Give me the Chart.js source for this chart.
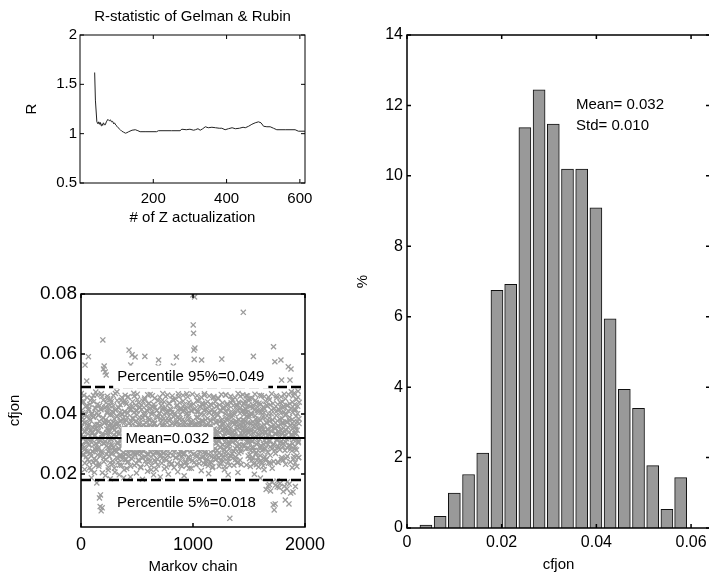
<!DOCTYPE html>
<html>
<head>
<meta charset="utf-8">
<script src="https://cdn.jsdelivr.net/npm/chart.js@4/dist/chart.umd.min.js"></script>
<style>
  html, body { margin: 0; padding: 0; background: #fff; width: 709px; height: 576px; overflow: hidden; }
  .panel { position: absolute; }
</style>
</head>
<body>
<div class="panel" style="left:0;top:0;width:340px;height:240px"><canvas id="rstat"></canvas></div>
<div class="panel" style="left:0;top:240px;width:340px;height:336px"><canvas id="chain"></canvas></div>
<div class="panel" style="left:340px;top:0;width:380px;height:576px"><canvas id="hist"></canvas></div>
<script>
// --- R-statistic of Gelman & Rubin ---
const rIter = [40, 42, 46, 49, 51, 53, 55, 58, 60, 62, 64, 67, 69, 72, 76, 80, 83, 86, 89, 92,
  94, 98, 101, 104, 107, 110, 114, 119, 124, 128, 133, 142, 151, 158, 164, 180, 209, 214, 250, 273,
  278, 290, 300, 310, 315, 322, 328, 335, 342, 350, 360, 370, 380, 387, 396, 405, 415, 424, 435, 445,
  451, 460, 469, 478, 487, 494, 501, 510, 519, 528, 537, 560, 587, 596, 614];
const rValue = [1.62, 1.34, 1.12, 1.10, 1.12, 1.095, 1.115, 1.08, 1.10, 1.085, 1.11, 1.09, 1.09, 1.12, 1.145, 1.13, 1.14, 1.12, 1.125, 1.10,
  1.11, 1.085, 1.075, 1.06, 1.05, 1.04, 1.025, 1.015, 1.005, 1.01, 1.02, 1.035, 1.04, 1.03, 1.02, 1.02, 1.02, 1.03, 1.03, 1.03,
  1.045, 1.04, 1.045, 1.035, 1.04, 1.05, 1.035, 1.05, 1.07, 1.06, 1.065, 1.06, 1.055, 1.055, 1.04, 1.05, 1.06, 1.05, 1.055, 1.065,
  1.06, 1.075, 1.095, 1.11, 1.12, 1.11, 1.075, 1.07, 1.07, 1.055, 1.04, 1.04, 1.04, 1.025, 1.025];
const rXTicks = [200, 400, 600];
const rXLabels = ['200', '400', '600'];
const rYTicks = [0.5, 1, 1.5, 2];
const rYLabels = ['0.5', '1', '1.5', '2'];

// --- Markov chain of cfjon (values in units of 1e-4) ---
// chainDraws: iterations 0, 3, 6, ...; chainDrawsMid: iterations 1.5, 4.5, ...
const chainStep = 3;
const chainDraws = [
  452, 468, 331, 296, 387, 405, 262, 318, 440, 371, 289, 215, 563, 342, 398, 276, 305, 510, 427, 354, 248, 333, 591, 412, 366,
  298, 221, 379, 445, 312, 260, 187, 338, 403, 356, 274, 239, 462, 391, 327, 205, 284, 350, 419, 473, 301, 246, 170, 365, 432,
  281, 344, 397, 226, 305, 120, 362, 91, 130, 418, 77, 276, 458, 87, 329, 647, 386, 550, 241, 560, 302, 371, 540, 195, 423,
  530, 266, 338, 402, 451, 287, 213, 349, 376, 310, 258, 429, 184, 297, 365, 441, 322, 271, 398, 233, 355, 462, 290, 317, 384,
  347, 206, 278, 413, 369, 255, 326, 474, 392, 301, 239, 358, 420, 283, 197, 336, 405, 264, 311, 378, 446, 229, 293, 352, 399,
  315, 260, 187, 343, 407, 372, 248, 296, 439, 360, 282, 218, 331, 389, 456, 307, 241, 268, 613, 347, 414, 279, 190, 563, 338,
  372, 425, 597, 300, 257, 318, 386, 469, 344, 229, 271, 590, 354, 411, 286, 203, 329, 397, 448, 313, 246, 365, 280, 338, 420,
  291, 352, 224, 268, 383, 430, 309, 255, 182, 336, 401, 362, 277, 319, 447, 592, 394, 243, 296, 358, 412, 325, 266, 209, 345,
  388, 434, 302, 250, 327, 380, 465, 316, 274, 214, 341, 399, 287, 358, 423, 263, 197, 305, 370, 452, 334, 281, 240, 319, 392,
  356, 411, 272, 230, 298, 558, 580, 349, 403, 318, 266, 190, 327, 384, 441, 295, 252, 362, 420, 309, 271, 343, 398, 217, 285,
  336, 377, 458, 310, 246, 289, 351, 405, 322, 261, 199, 340, 393, 436, 300, 270, 328, 381, 414, 292, 235, 312, 367, 449, 325,
  560, 283, 221, 348, 402, 366, 297, 254, 318, 590, 375, 430, 284, 207, 333, 389, 457, 311, 262, 344, 398, 276, 229, 355, 416,
  301, 259, 337, 382, 443, 314, 268, 194, 329, 371, 420, 289, 241, 356, 401, 467, 323, 280, 347, 392, 308, 255, 219, 362, 428,
  335, 287, 372, 410, 351, 298, 244, 319, 797, 697, 669, 613, 582, 790, 620, 366, 304, 262, 331, 389, 445, 316, 278, 353, 407,
  372, 294, 235, 318, 361, 423, 340, 282, 211, 580, 327, 379, 436, 305, 257, 346, 398, 462, 321, 274, 232, 358, 414, 297, 250,
  339, 385, 441, 312, 266, 201, 347, 403, 360, 293, 241, 325, 377, 429, 306, 258, 221, 336, 392, 454, 318, 279, 350, 408, 285,
  247, 331, 374, 425, 303, 262, 343, 396, 451, 314, 270, 226, 359, 412, 337, 289, 243, 320, 378, 583, 348, 297, 256, 369, 418,
  326, 282, 214, 351, 400, 463, 316, 273, 339, 386, 430, 302, 251, 197, 344, 392, 357, 300, 52, 262, 328, 375, 437, 311, 268,
  341, 397, 448, 323, 276, 229, 365, 411, 333, 285, 248, 312, 370, 426, 349, 294, 238, 205, 381, 439, 327, 283, 354, 402, 459,
  317, 274, 231, 361, 409, 345, 297, 380, 739, 433, 398, 352, 409, 443, 376, 330, 415, 461, 392, 344, 306, 371, 427, 286, 338,
  395, 451, 318, 264, 225, 349, 403, 367, 288, 246, 310, 363, 421, 592, 335, 279, 199, 342, 394, 445, 320, 270, 231, 358, 410,
  373, 304, 255, 329, 384, 436, 346, 291, 242, 186, 353, 405, 461, 324, 277, 337, 390, 422, 299, 253, 214, 362, 417, 339, 284,
  245, 148, 318, 369, 428, 350, 297, 160, 236, 331, 386, 447, 309, 262, 143, 344, 401, 357, 283, 219, 324, 380, 97, 624, 300,
  80, 352, 574, 100, 268, 334, 395, 453, 312, 157, 240, 361, 416, 342, 287, 155, 328, 383, 438, 306, 580, 248, 513, 369, 422,
  337, 291, 141, 354, 407, 466, 325, 278, 113, 232, 346, 398, 317, 150, 259, 373, 429, 557, 294, 100, 340, 389, 513, 282, 136,
  550, 474, 327, 381, 440, 301, 140, 250, 362, 415, 470, 335, 283, 158, 349, 392, 448, 318, 261, 373, 426, 476, 304, 255, 368
];
const chainDrawsMid = [
  410, 356, 298, 441, 377, 322, 265, 399, 462, 340, 281, 236, 371, 425, 309, 257, 348, 391, 455, 318, 274, 362, 417, 296, 240,
  385, 432, 327, 269, 212, 346, 398, 452, 313, 276, 338, 389, 441, 297, 251, 365, 420, 329, 280, 228, 352, 404, 463, 317, 263,
  342, 395, 288, 233, 376, 428, 311, 260, 359, 414, 467, 320, 271, 204, 335, 387, 446, 302, 255, 369, 421, 308, 247, 381, 437,
  293, 350, 406, 459, 328, 275, 222, 363, 418, 340, 286, 237, 397, 448, 315, 267, 354, 409, 296, 243, 372, 427, 331, 278, 219,
  358, 413, 468, 324, 273, 338, 392, 445, 306, 252, 367, 422, 333, 284, 229, 376, 431, 312, 259, 345, 399, 455, 300, 248, 384,
  439, 325, 270, 214, 353, 408, 462, 319, 266, 378, 433, 294, 239, 347, 402, 457, 311, 258, 370, 424, 336, 282, 226, 361, 416,
  303, 250, 386, 441, 327, 272, 349, 404, 459, 316, 263, 374, 429, 290, 235, 357, 412, 466, 322, 268, 383, 437, 298, 244, 368,
  423, 334, 279, 221, 360, 415, 305, 253, 388, 443, 330, 275, 343, 398, 453, 309, 256, 372, 427, 288, 232, 355, 410, 464, 320,
  267, 381, 436, 297, 242, 364, 419, 337, 283, 228, 351, 406, 461, 318, 264, 377, 432, 301, 246, 368, 423, 329, 274, 216, 357,
  412, 300, 249, 389, 444, 325, 271, 346, 401, 456, 313, 260, 373, 428, 291, 236, 359, 414, 468, 322, 268, 385, 440, 303, 251,
  366, 421, 332, 277, 223, 354, 409, 463, 316, 262, 379, 434, 295, 240, 362, 417, 339, 285, 231, 350, 405, 460, 314, 261, 391,
  446, 327, 273, 340, 395, 450, 307, 254, 371, 426, 287, 233, 358, 413, 467, 321, 266, 382, 437, 299, 245, 366, 420, 334, 279,
  225, 352, 407, 462, 318, 264, 376, 431, 292, 238, 361, 416, 336, 281, 228, 347, 402, 457, 311, 257, 384, 439, 301, 247, 370,
  425, 331, 276, 219, 356, 411, 466, 320, 265, 378, 433, 294, 240, 363, 418, 340, 285, 230, 352, 407, 461, 315, 260, 388, 443,
  304, 249, 369, 424, 330, 274, 345, 400, 455, 309, 255, 374, 429, 290, 236, 358, 413, 467, 322, 267, 380, 435, 296, 242, 365,
  420, 337, 282, 227, 351, 406, 460, 316, 262, 377, 432, 293, 238, 360, 415, 334, 279, 224, 348, 403, 458, 312, 258, 386, 441,
  302, 248, 371, 426, 332, 278, 343, 398, 453, 308, 254, 375, 430, 289, 234, 356, 411, 465, 319, 265, 382, 437, 298, 243, 367,
  422, 335, 280, 225, 354, 409, 463, 317, 263, 379, 434, 295, 241, 362, 417, 338, 283, 229, 350, 405, 459, 313, 259, 390, 445,
  306, 252, 373, 428, 329, 275, 344, 399, 454, 310, 256, 376, 431, 292, 237, 359, 414, 468, 323, 269, 381, 436, 297, 246, 366,
  421, 336, 281, 330, 355, 410, 464, 318, 372, 380, 435, 296, 320, 363, 418, 339, 284, 230, 351, 406, 460, 314, 260, 389, 444,
  305, 251, 370, 425, 331, 277, 342, 397, 452, 307, 253, 374, 429, 288, 233, 357, 412, 466, 321, 266, 383, 438, 299, 245, 368,
  423, 333, 278, 223, 353, 408, 462, 316, 261, 378, 433, 294, 239, 361, 416, 337, 282, 227, 349, 404, 458, 312, 257, 387, 442,
  303, 249, 372, 427, 328, 273, 346, 401, 456, 311, 165, 375, 430, 291, 236, 358, 413, 467, 324, 172, 380, 435, 296, 241, 364,
  419, 334, 279, 162, 352, 407, 461, 315, 176, 377, 432, 293, 238, 360, 415, 336, 281, 168, 347, 402, 457, 310, 255, 385, 440,
  301, 246, 369, 424, 327, 159, 341, 396, 451, 306, 252, 373, 428, 287, 174, 356, 411, 465, 320, 166, 379, 434, 295, 240, 363,
  418, 332, 277, 221, 350, 405, 460, 314, 259, 376, 431, 292, 237, 359, 414, 335, 280, 225, 346, 401, 456, 309, 254, 384, 439
];
const chainMean = 0.032;
const chainP95 = 0.049;
const chainP05 = 0.018;
const chainXTicks = [0, 1000, 2000];
const chainXLabels = ['0', '1000', '2000'];
const chainYTicks = [0.02, 0.04, 0.06, 0.08];
const chainYLabels = ['0.02', '0.04', '0.06', '0.08'];

// --- histogram of cfjon ---
const binCenter = [0.0040, 0.0070, 0.0100, 0.0130, 0.0160, 0.0190, 0.0219, 0.0249, 0.0279, 0.0309,
  0.0339, 0.0369, 0.0399, 0.0429, 0.0459, 0.0489, 0.0519, 0.0549, 0.0578];
const binPct = [0.08, 0.33, 0.99, 1.52, 2.13, 6.75, 6.92, 11.37, 12.44, 11.47,
  10.19, 10.19, 9.09, 5.94, 3.94, 3.40, 1.77, 0.53, 1.43];
const histXTicks = [0, 0.02, 0.04, 0.06];
const histXLabels = ['0', '0.02', '0.04', '0.06'];
const histYTicks = [0, 2, 4, 6, 8, 10, 12, 14];
const histYLabels = ['0', '2', '4', '6', '8', '10', '12', '14'];

const FONT = '"Liberation Sans", Arial, sans-serif';

// matlab-like box with inward ticks, plus text notes
const matlabBox = {
  id: 'matlabBox',
  afterDatasetsDraw(chart, args, o) {
    const { ctx, chartArea: a, scales } = chart;
    ctx.save();
    ctx.strokeStyle = '#000';
    ctx.lineWidth = o.lineWidth || 1;
    ctx.strokeRect(a.left, a.top, a.right - a.left, a.bottom - a.top);
    const len = 4;
    ctx.beginPath();
    scales.x.ticks.forEach(t => {
      const px = scales.x.getPixelForValue(t.value);
      ctx.moveTo(px, a.bottom); ctx.lineTo(px, a.bottom - len);
      ctx.moveTo(px, a.top); ctx.lineTo(px, a.top + len);
    });
    scales.y.ticks.forEach(t => {
      const py = scales.y.getPixelForValue(t.value);
      ctx.moveTo(a.left, py); ctx.lineTo(a.left + len, py);
      ctx.moveTo(a.right, py); ctx.lineTo(a.right - len, py);
    });
    ctx.stroke();

    (o.notes || []).forEach(n => {
      const x = scales.x.getPixelForValue(n.x);
      const y = scales.y.getPixelForValue(n.y);
      ctx.font = `${n.size || 15}px ${FONT}`;
      ctx.textBaseline = 'middle';
      ctx.textAlign = n.align || 'center';
      if (n.boxed) {
        const w = ctx.measureText(n.text).width;
        const left = n.align === 'left' ? x : x - w / 2;
        ctx.fillStyle = '#fff';
        ctx.fillRect(left - 4, y - 11.5, w + 8, 23);
      }
      ctx.fillStyle = '#000';
      ctx.fillText(n.text, x, y);
    });

    if (o.title) {
      ctx.font = `15px ${FONT}`;
      ctx.textAlign = 'center';
      ctx.textBaseline = 'middle';
      ctx.fillStyle = '#000';
      ctx.fillText(o.title, (a.left + a.right) / 2, a.top - 18);
    }
    ctx.restore();
  }
};

function fixSize(px, horizontal) {
  return scale => {
    if (horizontal) scale.height = px; else scale.width = px;
    scale.paddingLeft = scale.paddingRight = scale.paddingTop = scale.paddingBottom = 0;
  };
}
function setTicks(values) {
  return scale => { scale.ticks = values.map(v => ({ value: v })); };
}
function axisFont(size) {
  return { family: FONT, size: size };
}

const baseOptions = {
  responsive: true,
  maintainAspectRatio: false,
  animation: false,
  events: [],
  plugins: { legend: { display: false }, tooltip: { enabled: false } }
};

// top-left: R statistic
new Chart(document.getElementById('rstat'), {
  type: 'line',
  data: {
    datasets: [{
      data: rIter.map((x, i) => ({ x: x, y: rValue[i] })),
      borderColor: '#222',
      borderWidth: 1,
      pointRadius: 0,
      tension: 0
    }]
  },
  options: {
    ...baseOptions,
    layout: { padding: { left: 0, top: 35, right: 35, bottom: 0 } },
    scales: {
      x: {
        type: 'linear', min: 0, max: 614,
        grid: { display: false, drawTicks: false }, border: { display: false },
        afterBuildTicks: setTicks(rXTicks),
        afterFit: fixSize(57, true),
        ticks: { font: axisFont(15), color: '#000', padding: 7, maxRotation: 0, autoSkip: false, callback: (v, i) => rXLabels[i] },
        title: { display: true, text: '# of Z actualization', font: axisFont(15), color: '#000', padding: { top: 0, bottom: 13 } }
      },
      y: {
        min: 0.5, max: 2,
        grid: { display: false, drawTicks: false }, border: { display: false },
        afterBuildTicks: setTicks(rYTicks),
        afterFit: fixSize(80, false),
        ticks: { font: axisFont(15), color: '#000', padding: 3, autoSkip: false, callback: (v, i) => rYLabels[i] },
        title: { display: true, text: 'R', font: axisFont(15), color: '#000', padding: { top: 23, bottom: 0 } }
      }
    },
    plugins: { ...baseOptions.plugins, matlabBox: { lineWidth: 1, title: 'R-statistic of Gelman & Rubin' } }
  },
  plugins: [matlabBox]
});

// bottom-left: Markov chain scatter
const crossStyle = {
  pointStyle: 'crossRot', pointRadius: 3.6, borderWidth: 1.3,
  borderColor: '#9c9c9c', backgroundColor: '#9c9c9c', order: 2
};
new Chart(document.getElementById('chain'), {
  type: 'scatter',
  data: {
    datasets: [
      {
        type: 'line', data: [{ x: 0, y: chainMean }, { x: 2000, y: chainMean }],
        borderColor: '#000', borderWidth: 2, pointRadius: 0, order: 1
      },
      {
        type: 'line', data: [{ x: 0, y: chainP95 }, { x: 2000, y: chainP95 }],
        borderColor: '#000', borderWidth: 2.5, borderDash: [10, 4], pointRadius: 0, order: 1
      },
      {
        type: 'line', data: [{ x: 0, y: chainP05 }, { x: 2000, y: chainP05 }],
        borderColor: '#000', borderWidth: 2.5, borderDash: [10, 4], pointRadius: 0, order: 1
      },
      { ...crossStyle, data: chainDraws.map((v, i) => ({ x: i * chainStep, y: v / 10000 })) },
      { ...crossStyle, data: chainDrawsMid.map((v, i) => ({ x: i * chainStep + chainStep / 2, y: v / 10000 })) }
    ]
  },
  options: {
    ...baseOptions,
    layout: { padding: { left: 0, top: 54, right: 35, bottom: 0 } },
    scales: {
      x: {
        type: 'linear', min: 0, max: 2000,
        grid: { display: false, drawTicks: false }, border: { display: false },
        afterBuildTicks: setTicks(chainXTicks),
        afterFit: fixSize(49, true),
        ticks: { font: axisFont(18), color: '#000', padding: 7, maxRotation: 0, autoSkip: false, callback: (v, i) => chainXLabels[i] },
        title: { display: true, text: 'Markov chain', font: axisFont(15), color: '#000', padding: { top: 0, bottom: 0 } }
      },
      y: {
        min: 0.0023, max: 0.08,
        grid: { display: false, drawTicks: false }, border: { display: false },
        afterBuildTicks: setTicks(chainYTicks),
        afterFit: fixSize(81, false),
        ticks: { font: axisFont(19), color: '#000', padding: 4, autoSkip: false, callback: (v, i) => chainYLabels[i] },
        title: { display: true, text: 'cfjon', font: axisFont(15), color: '#000', padding: { top: 6, bottom: 0 } }
      }
    },
    plugins: {
      ...baseOptions.plugins,
      matlabBox: {
        lineWidth: 1.5,
        notes: [
          { text: 'Percentile 95%=0.049', x: 980, y: 0.0523, boxed: true },
          { text: 'Mean=0.032', x: 772, y: 0.0318, boxed: true },
          { text: 'Percentile 5%=0.018', x: 942, y: 0.0103, boxed: true }
        ]
      }
    }
  },
  plugins: [matlabBox]
});

// right: histogram
new Chart(document.getElementById('hist'), {
  type: 'bar',
  data: {
    datasets: [{
      data: binCenter.map((x, i) => ({ x: x, y: binPct[i] })),
      backgroundColor: '#999',
      borderColor: '#111',
      borderWidth: 1,
      barThickness: 12
    }]
  },
  options: {
    ...baseOptions,
    layout: { padding: { left: 0, top: 35, right: 10, bottom: 0 } },
    scales: {
      x: {
        type: 'linear', min: 0, max: 0.064, offset: false,
        grid: { display: false, drawTicks: false }, border: { display: false },
        afterBuildTicks: setTicks(histXTicks),
        afterFit: fixSize(48, true),
        ticks: { font: axisFont(16), color: '#000', padding: 5, maxRotation: 0, autoSkip: false, callback: (v, i) => histXLabels[i] },
        title: { display: true, text: 'cfjon', font: axisFont(15), color: '#000', padding: { top: 0, bottom: 2 } }
      },
      y: {
        min: 0, max: 14,
        grid: { display: false, drawTicks: false }, border: { display: false },
        afterBuildTicks: setTicks(histYTicks),
        afterFit: fixSize(67, false),
        ticks: { font: axisFont(16), color: '#000', padding: 4, autoSkip: false, callback: (v, i) => histYLabels[i] },
        title: { display: true, text: '%', font: axisFont(15), color: '#000', padding: { top: 14, bottom: 0 } }
      }
    },
    plugins: {
      ...baseOptions.plugins,
      matlabBox: {
        lineWidth: 1.5,
        notes: [
          { text: 'Mean= 0.032', x: 0.0357, y: 12.02, align: 'left' },
          { text: 'Std= 0.010', x: 0.0357, y: 11.42, align: 'left' }
        ]
      }
    }
  },
  plugins: [matlabBox]
});
</script>
</body>
</html>
